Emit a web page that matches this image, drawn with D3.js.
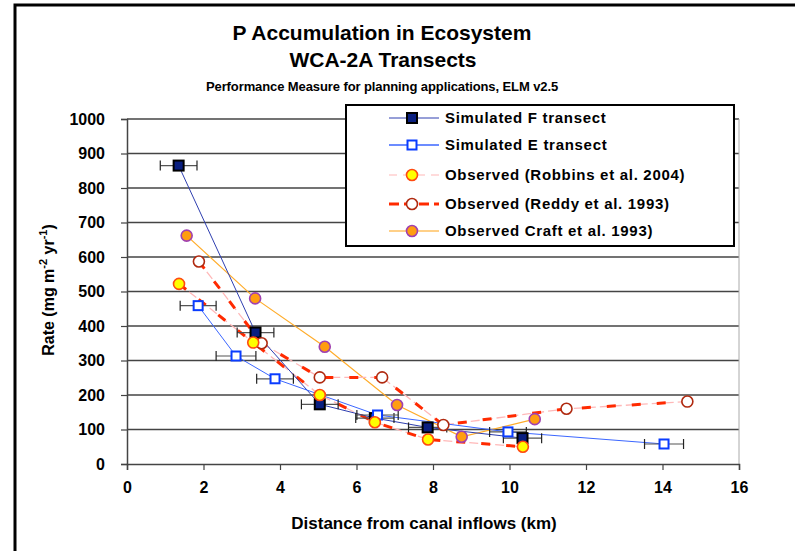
<!DOCTYPE html>
<html><head><meta charset="utf-8">
<script src="https://cdn.jsdelivr.net/npm/d3@7"></script>
<style>body{margin:0;background:#fff}svg{display:block}text{font-family:"Liberation Sans",Arial,sans-serif;font-weight:bold}</style>
</head><body>
<script>
const xTicks = [0, 2, 4, 6, 8, 10, 12, 14, 16];
const yTicks = [0, 100, 200, 300, 400, 500, 600, 700, 800, 900, 1000];
const seriesNames = ["Simulated F transect", "Simulated E transect", "Observed (Robbins et al. 2004)", "Observed (Reddy et al. 1993)", "Observed Craft et al. 1993)"];

const simF_x = [1.35, 3.36, 5.04, 6.48, 7.86, 10.34];
const simF_y = [865, 381, 173, 133, 106, 75];
const simF_err = [0.48, 0.48, 0.48, 0.5, 0.5, 0.5];

const simE_x = [1.86, 2.85, 3.87, 6.55, 9.96, 14.04];
const simE_y = [459, 313, 247, 142, 93, 58];
const simE_err = [0.47, 0.52, 0.48, 0.54, 0.48, 0.51];

const robbins_x = [1.36, 3.3, 5.04, 6.48, 7.87, 10.35];
const robbins_y = [522, 352, 200, 121, 71, 50];

const reddy_x = [1.88, 3.52, 5.04, 6.67, 8.27, 11.49, 14.65];
const reddy_y = [587, 350, 251, 251, 113, 160, 181];

const craft_x = [1.56, 3.35, 5.17, 7.06, 8.75, 10.66];
const craft_y = [662, 480, 340, 171, 79, 130];

const W = 795, H = 551;
const svg = d3.select("body").append("svg").attr("width", W).attr("height", H);

// outer frame
svg.append("rect").attr("x", 15).attr("y", 5).attr("width", 800).attr("height", 600)
  .attr("fill", "none").attr("stroke", "#000").attr("stroke-width", 3);

const x = d3.scaleLinear().domain([0, 16]).range([127, 739]);
const y = d3.scaleLinear().domain([0, 1000]).range([464, 119]);

// gridlines
svg.append("g").selectAll("line").data(yTicks.filter(d => d > 0)).join("line")
  .attr("x1", x(0)).attr("x2", x(16)).attr("y1", d => y(d)).attr("y2", d => y(d))
  .attr("stroke", "#444").attr("stroke-width", 1.3);
// right border
svg.append("line").attr("x1", x(16)).attr("x2", x(16)).attr("y1", y(1000)).attr("y2", y(0))
  .attr("stroke", "#aaa").attr("stroke-width", 1);

// axes
const yAxis = d3.axisLeft(y).tickValues(yTicks).tickFormat(d3.format("d")).tickSize(6).tickPadding(16);
const gy = svg.append("g").attr("transform", `translate(${x(0)},0)`).call(yAxis);
const xAxis = d3.axisBottom(x).tickValues(xTicks).tickFormat(d3.format("d")).tickSize(6).tickPadding(12);
const gx = svg.append("g").attr("transform", `translate(0,${y(0)})`).call(xAxis);
[gx, gy].forEach(g => {
  g.select(".domain").attr("stroke", "#444").attr("stroke-width", 1.5);
  g.selectAll(".tick line").attr("stroke", "#444").attr("stroke-width", 1.2);
  g.selectAll(".tick text").attr("font-size", 16).attr("font-weight", "bold")
    .attr("font-family", "Liberation Sans, Arial, sans-serif").attr("fill", "#000");
});

const pts = (xs, ys) => xs.map((v, i) => [v, ys[i]]);
const line = d3.line().x(d => x(d[0])).y(d => y(d[1]));
const plot = svg.append("g");

// lines
plot.append("path").datum(pts(craft_x, craft_y)).attr("d", line)
  .attr("fill", "none").attr("stroke", "#ffac2a").attr("stroke-width", 1.2);
[pts(robbins_x, robbins_y), pts(reddy_x, reddy_y)].forEach(p => {
  plot.append("path").datum(p).attr("d", line).attr("fill", "none")
    .attr("stroke", "#ffb8b8").attr("stroke-width", 1.3).attr("stroke-dasharray", "9,4");
  plot.append("path").datum(p).attr("d", line).attr("fill", "none")
    .attr("stroke", "#ff2a00").attr("stroke-width", 3).attr("stroke-dasharray", "9,16");
});
plot.append("path").datum(pts(simF_x, simF_y)).attr("d", line)
  .attr("fill", "none").attr("stroke", "#2f3fb0").attr("stroke-width", 1);
plot.append("path").datum(pts(simE_x, simE_y)).attr("d", line)
  .attr("fill", "none").attr("stroke", "#3b66ff").attr("stroke-width", 1);

// error bars
function errBars(xs, ys, es) {
  const g = plot.append("g").attr("stroke", "#222").attr("stroke-width", 1.2);
  xs.forEach((v, i) => {
    const x0 = x(v - es[i]), x1 = x(v + es[i]), yy = y(ys[i]);
    g.append("line").attr("x1", x0).attr("x2", x1).attr("y1", yy).attr("y2", yy).attr("stroke", "#555");
    g.append("line").attr("x1", x0).attr("x2", x0).attr("y1", yy - 5).attr("y2", yy + 5);
    g.append("line").attr("x1", x1).attr("x2", x1).attr("y1", yy - 5).attr("y2", yy + 5);
  });
}
errBars(simF_x, simF_y, simF_err);
errBars(simE_x, simE_y, simE_err);

// marker drawers
function sqF(g, cx, cy) {
  g.append("rect").attr("x", cx - 5).attr("y", cy - 5).attr("width", 10).attr("height", 10)
    .attr("fill", "#0a1f80").attr("stroke", "#000").attr("stroke-width", 2);
}
function sqE(g, cx, cy) {
  g.append("rect").attr("x", cx - 4.5).attr("y", cy - 4.5).attr("width", 9).attr("height", 9)
    .attr("fill", "#fff").attr("stroke", "#0a3cff").attr("stroke-width", 2);
}
function circ(fill, stroke) {
  return (g, cx, cy) => g.append("circle").attr("cx", cx).attr("cy", cy).attr("r", 5.5)
    .attr("fill", fill).attr("stroke", stroke).attr("stroke-width", 1.6);
}
const cRobbins = circ("#ffff00", "#ff4a10");
const cReddy = circ("#fff", "#b02a10");
const cCraft = circ("#ff9d10", "#a040b0");

function markers(xs, ys, f) { xs.forEach((v, i) => f(plot, x(v), y(ys[i]))); }
markers(simF_x, simF_y, sqF);
markers(simE_x, simE_y, sqE);
markers(reddy_x, reddy_y, cReddy);
markers(craft_x, craft_y, cCraft);
markers(robbins_x, robbins_y, cRobbins);

// legend
const lg = svg.append("g");
lg.append("rect").attr("x", 346).attr("y", 105).attr("width", 388).attr("height", 141)
  .attr("fill", "#fff").attr("stroke", "#000").attr("stroke-width", 2);
const rowY = [118, 145, 175, 204, 231];
const lx0 = 389, lx1 = 439, mx = 412, tx = 445;
lg.append("line").attr("x1", lx0).attr("x2", lx1).attr("y1", rowY[0]).attr("y2", rowY[0]).attr("stroke", "#2f3fb0").attr("stroke-width", 1);
sqF(lg, mx, rowY[0]);
lg.append("line").attr("x1", lx0).attr("x2", lx1).attr("y1", rowY[1]).attr("y2", rowY[1]).attr("stroke", "#3b66ff").attr("stroke-width", 1.5);
sqE(lg, mx, rowY[1]);
lg.append("line").attr("x1", lx0).attr("x2", lx1).attr("y1", rowY[2]).attr("y2", rowY[2]).attr("stroke", "#ffb8b8").attr("stroke-width", 1.2).attr("stroke-dasharray", "8,6");
cRobbins(lg, mx, rowY[2]);
lg.append("line").attr("x1", lx0).attr("x2", lx1).attr("y1", rowY[3]).attr("y2", rowY[3]).attr("stroke", "#ff2a00").attr("stroke-width", 3).attr("stroke-dasharray", "10,5");
cReddy(lg, mx, rowY[3]);
lg.append("line").attr("x1", lx0).attr("x2", lx1).attr("y1", rowY[4]).attr("y2", rowY[4]).attr("stroke", "#ffc060").attr("stroke-width", 1.5);
cCraft(lg, mx, rowY[4]);
lg.selectAll("text.lt").data(seriesNames).join("text").attr("class", "lt")
  .attr("x", tx).attr("y", (d, i) => rowY[i] + 5).attr("font-size", 15)
  .attr("letter-spacing", 0.7).attr("fill", "#000").text(d => d);

// titles
svg.append("text").attr("x", 382).attr("y", 40).attr("text-anchor", "middle").attr("font-size", 21).text("P Accumulation in Ecosystem");
svg.append("text").attr("x", 383).attr("y", 67).attr("text-anchor", "middle").attr("font-size", 21).text("WCA-2A Transects");
svg.append("text").attr("x", 382).attr("y", 91).attr("text-anchor", "middle").attr("font-size", 13).attr("letter-spacing", -0.1).text("Performance Measure for planning applications, ELM v2.5");
svg.append("text").attr("x", 424).attr("y", 529).attr("text-anchor", "middle").attr("font-size", 17).text("Distance from canal inflows (km)");

const yt = svg.append("text").attr("transform", "translate(54,290) rotate(-90)").attr("text-anchor", "middle").attr("font-size", 16);
yt.append("tspan").text("Rate (mg m");
yt.append("tspan").attr("dy", -7).attr("font-size", 11).text("-2");
yt.append("tspan").attr("dy", 7).text(" yr");
yt.append("tspan").attr("dy", -7).attr("font-size", 11).text("-1");
yt.append("tspan").attr("dy", 7).text(")");
</script>
</body></html>
